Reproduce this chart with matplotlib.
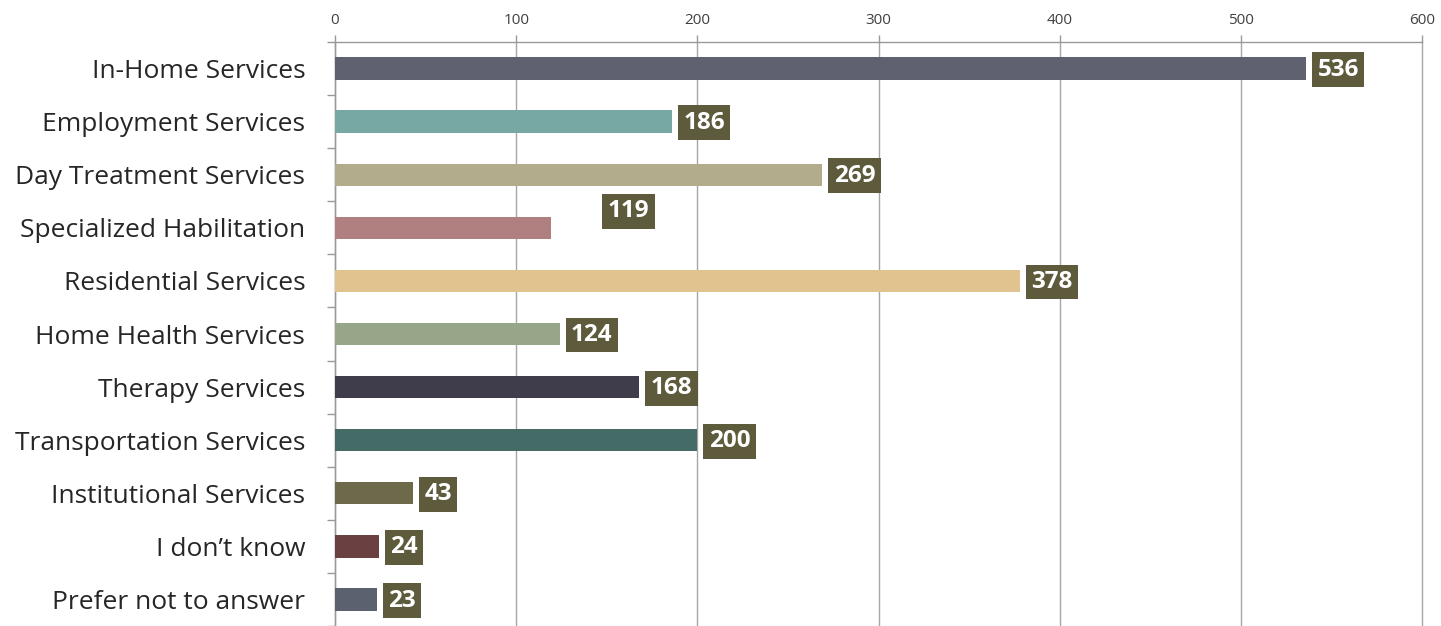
import numpy as np
import matplotlib.pyplot as plt

# datos del grafico
categorias = ["In-Home Services", "Employment Services", "Day Treatment Services",
              "Specialized Habilitation", "Residential Services", "Home Health Services",
              "Therapy Services", "Transportation Services", "Institutional Services",
              "I don\u2019t know", "Prefer not to answer"]
valores = [536, 186, 269, 119, 378, 124, 168, 200, 43, 24, 23]
colores = ["#5f6170", "#78a8a3", "#b2ab8c", "#b07f80", "#e0c38e", "#97a588",
           "#3f3d4b", "#446b66", "#6c6a4a", "#6b4040", "#5c6170"]
ticks_x = [0, 100, 200, 300, 400, 500, 600]

plt.rcParams['font.family'] = ['Open Sans', 'DejaVu Sans']

fig = plt.figure(figsize=(14.41, 6.26), dpi=100)
ax = fig.add_axes([0.2325, 0.0, 0.9868 - 0.2325, 0.9329])

y = np.arange(len(categorias))
ax.barh(y, valores, height=0.42, color=colores, zorder=3)

ax.set_xlim(0, 600)
ax.set_ylim(len(categorias) - 0.5, -0.5)
ax.set_xticks(ticks_x)
ax.xaxis.tick_top()
ax.tick_params(axis='x', labelsize=11, colors='#404040', length=5, width=1,
               color='#999999', pad=5)
ax.grid(axis='x', color='#a6a6a6', linewidth=1, zorder=0)
for linea in ax.get_xgridlines():
    linea.set_clip_on(False)

ax.set_yticks(y)
ax.set_yticklabels(categorias, fontsize=19, color='#262626')
ax.tick_params(axis='y', length=0, pad=21.5)
# marcas entre categorias
ax.set_yticks(np.arange(-0.5, len(categorias), 1), minor=True)
ax.tick_params(axis='y', which='minor', length=6, color='#999999', width=1)

for lado in ['right', 'bottom']:
    ax.spines[lado].set_visible(False)
for lado in ['left', 'top']:
    ax.spines[lado].set_color('#999999')
    ax.spines[lado].set_linewidth(1)

caja = dict(boxstyle='square,pad=0.22', facecolor='#5e5a3c', edgecolor='none')
for i, v in enumerate(valores):
    if categorias[i] == "Specialized Habilitation":
        ax.text(162, i - 0.31, str(v), ha='center', va='center', fontsize=17.5,
                fontweight='bold', color='white', bbox=caja, zorder=4)
    else:
        ax.text(v + 6.3, i + 0.02, str(v), ha='left', va='center', fontsize=17.5,
                fontweight='bold', color='white', bbox=caja, zorder=4)

plt.savefig('out.png', dpi=100)
